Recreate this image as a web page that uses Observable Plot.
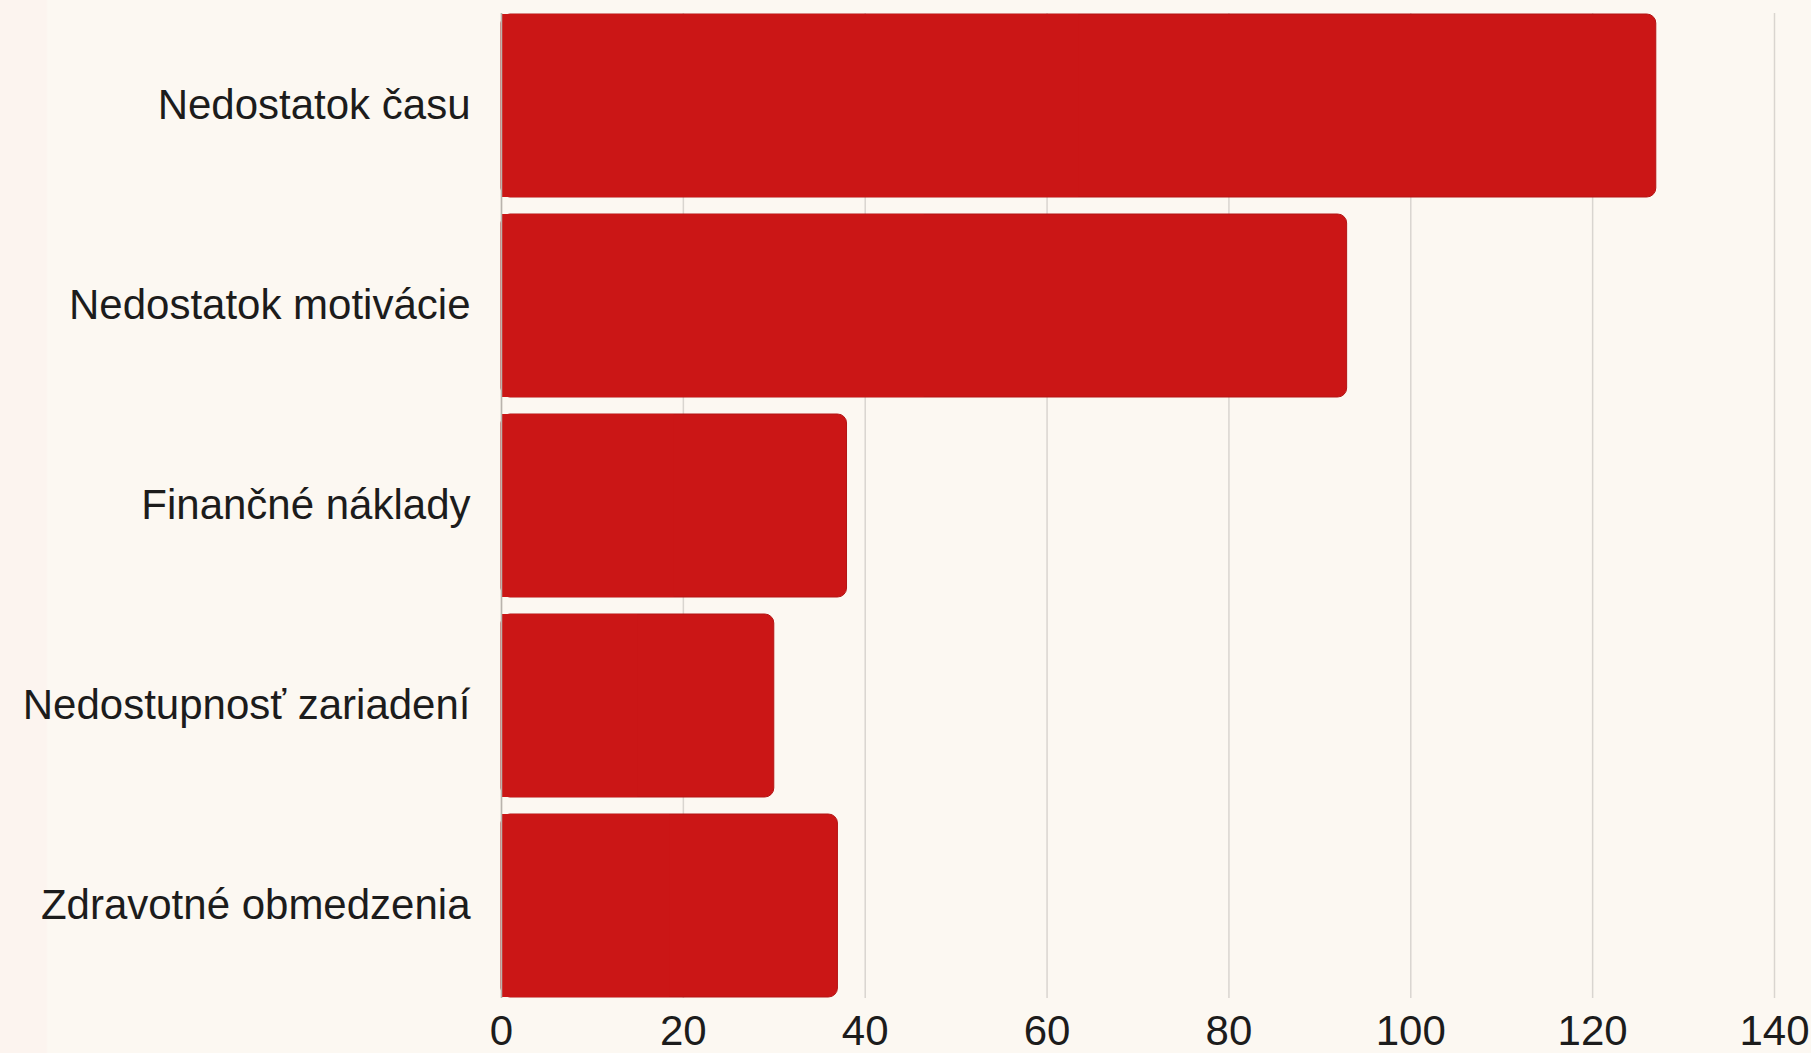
<!DOCTYPE html>
<html>
<head>
<meta charset="utf-8">
<script src="https://cdn.jsdelivr.net/npm/d3@7"></script>
<script src="https://cdn.jsdelivr.net/npm/@observablehq/plot@0.6"></script>
<style>
  html, body { margin: 0; padding: 0; }
  body {
    width: 1811px; height: 1053px; overflow: hidden;
    background: linear-gradient(to right, #fcf4ef 0px, #fcf4ef 46px, #fcf8f2 48px, #fcf8f2 100%);
  }
  #chart svg { display: block; }
</style>
</head>
<body>
<div id="chart"></div>
<script>
const categories = ["Nedostatok času", "Nedostatok motivácie", "Finančné náklady", "Nedostupnosť zariadení", "Zdravotné obmedzenia"];
const values = [127, 93, 38, 30, 37];
const xTicks = [0, 20, 40, 60, 80, 100, 120, 140];

const data = categories.map((c, i) => ({category: c, value: values[i]}));

const chart = Plot.plot({
  width: 1811,
  height: 1053,
  marginTop: 13,
  marginBottom: 55,
  marginLeft: 501,
  marginRight: 37,
  style: {background: "transparent", fontFamily: "'Liberation Sans', Arial, sans-serif", fontSize: "42px", color: "#1c1c1c"},
  x: {domain: [0, 140], ticks: xTicks, label: null},
  y: {domain: categories, paddingInner: 0.085, paddingOuter: 0, label: null},
  marks: [
    Plot.ruleX(xTicks, {stroke: "#d9d5d0", strokeWidth: 1.5}),
    Plot.barX(data, {y: "category", x: "value", fill: "#cb1616", stroke: "#b41414", strokeWidth: 1, rx: 9}),
    Plot.barX(data, {y: "category", x1: 0, x2: d => d.value / 2, fill: "#cb1616"}),
    Plot.ruleX([0], {stroke: "#b9b3ad", strokeWidth: 1.5}),
    Plot.axisX({ticks: xTicks, tickSize: 0, tickPadding: 17, fontSize: 42, label: null}),
    Plot.axisY({tickSize: 0, tickPadding: 31, fontSize: 42, label: null})
  ]
});
document.getElementById("chart").appendChild(chart);
</script>
</body>
</html>
